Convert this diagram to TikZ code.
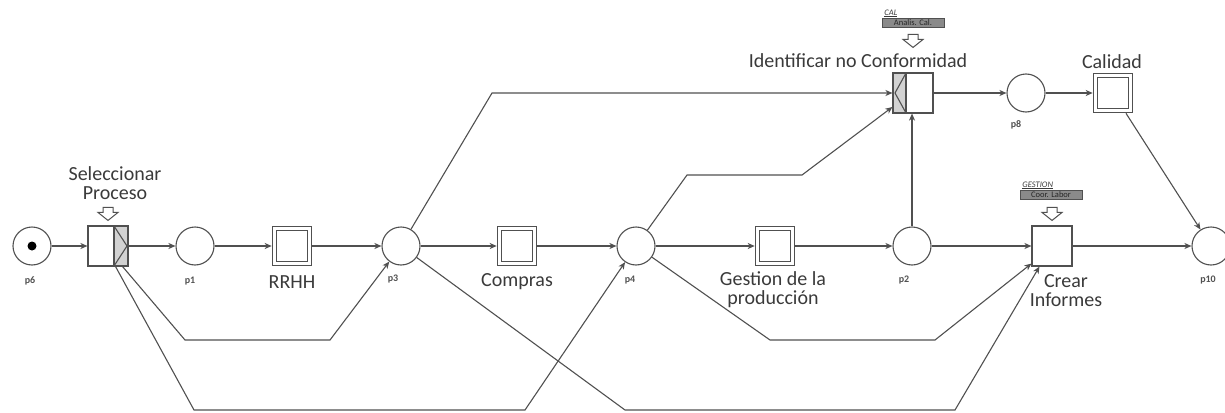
\documentclass[tikz,border=0pt]{standalone}
\usepackage{fontspec}
\setmainfont{Carlito}
\usetikzlibrary{arrows.meta}
\definecolor{netgray}{HTML}{505050}
\definecolor{textgray}{HTML}{3A3A3A}
\definecolor{fillgray}{HTML}{D2D2D2}
\definecolor{tabgray}{HTML}{8A8A8A}
\tikzset{every picture/.style={line width=1.1pt}}
\tikzset{
  place/.style={circle, draw=netgray, fill=white, minimum size=38pt,
                inner sep=0pt},
  token/.style={circle, fill=black, minimum size=9pt, inner sep=0pt},
  trans/.style={rectangle, draw=netgray, fill=white, minimum size=40pt,
                inner sep=0pt},
  dtrans/.style={rectangle, draw=netgray, double=white, double distance=3.5pt,
                 minimum size=35pt, inner sep=0pt, outer sep=2.8pt},
  flow/.style={draw=netgray, -{Stealth[length=7pt,width=6pt,inset=2pt]}},
  plabel/.style={font=\fontsize{10}{11}\selectfont\bfseries, text=netgray,
                 inner sep=0pt},
  tlabel/.style={font=\fontsize{20}{19}\selectfont, text=textgray,
                 align=center, inner sep=0pt},
  tab/.style={draw=netgray, fill=tabgray, line width=0.8pt,
              font=\fontsize{8.5}{9}\selectfont, text=black!85,
              minimum width=62pt, minimum height=9pt, inner sep=0.3pt},
  tabname/.style={font=\fontsize{8.5}{9}\selectfont\itshape, text=textgray,
                  inner sep=0.3pt},
  % shaded right part of the first transition
  selpart/.style={path picture={
      \fill[fillgray] ([xshift=-14pt]path picture bounding box.north east)
        rectangle (path picture bounding box.south east);
      \draw[netgray] ([xshift=-14pt]path picture bounding box.north east)
        -- ([xshift=-14pt]path picture bounding box.south east);
      \draw[netgray] ([xshift=-14pt]path picture bounding box.north east)
        -- ([xshift=-1pt]path picture bounding box.east)
        -- ([xshift=-14pt]path picture bounding box.south east);
  }},
  % shaded left part of the checking transition
  identpart/.style={path picture={
      \fill[fillgray] (path picture bounding box.north west)
        rectangle ([xshift=13pt]path picture bounding box.south west);
      \draw[netgray] ([xshift=13pt]path picture bounding box.north west)
        -- ([xshift=13pt]path picture bounding box.south west);
      \draw[netgray] ([xshift=13pt]path picture bounding box.north west)
        -- ([xshift=2pt]path picture bounding box.west)
        -- ([xshift=13pt]path picture bounding box.south west);
  }},
  pics/pointer/.style={code={
      \draw[netgray, fill=white, line width=1pt]
        (-5,-13) -- (5,-13) -- (5,-8) -- (10,-8) -- (0,0)
        -- (-10,-8) -- (-5,-8) -- cycle;
  }},
}

\begin{document}
\begin{tikzpicture}[x=1pt, y=-1pt]
  \useasboundingbox (0,0) rectangle (1225,412);
  % places
  \node[place] (p6) at (32,246) {};
  \node[token] (p6tok) at (p6) {};
  \node[place] (p1) at (195,246) {};
  \node[place] (p3) at (401,246) {};
  \node[place] (p4) at (636,246) {};
  \node[place] (p2) at (912,246) {};
  \node[place] (p10) at (1211,246) {};
  \node[place] (p8) at (1026,93) {};
  % transitions
  \node[trans, selpart] (sel) at (108,246) {};
  \node[dtrans] (rrhh) at (292,246) {};
  \node[dtrans] (compras) at (517,246) {};
  \node[dtrans] (gestion) at (775,246) {};
  \node[trans] (crear) at (1052,246) {};
  \node[trans, identpart] (ident) at (913,93) {};
  \node[dtrans] (calidad) at (1113,93) {};
  % place names
  \node[plabel] (p6l) at (30,281) {p6};
  \node[plabel] (p1l) at (190,281) {p1};
  \node[plabel] (p3l) at (393,279) {p3};
  \node[plabel] (p4l) at (630,280) {p4};
  \node[plabel] (p2l) at (904,280) {p2};
  \node[plabel] (p10l) at (1208,280) {p10};
  \node[plabel] (p8l) at (1016,125) {p8};
  % transition names
  \node[tlabel] (sell) at (115,183) {Seleccionar\\Proceso};
  \node[tlabel, anchor=base] (rrhhl) at (292,288) {RRHH};
  \node[tlabel, anchor=base] (comprasl) at (517,286) {Compras};
  \node[tlabel] (gestionl) at (773,290) {Gestion de la\\producción};
  \node[tlabel] (crearl) at (1066,291) {Crear\\Informes};
  \node[tlabel, anchor=base] (identl) at (858,67) {Identificar no Conformidad};
  \node[tlabel, anchor=base] (calidadl) at (1112,69) {Calidad};
  % roles
  \node[tab] (caltab) at (913,23) {Analis. Cal.};
  \node[tabname, anchor=south west] (calname) at ([xshift=2pt]caltab.north west) {\underline{CAL}};
  \node[tab] (gestab) at (1051,195) {Coor. Labor};
  \node[tabname, anchor=south west] (gesname) at ([xshift=2pt]gestab.north west) {\underline{GESTION}};
  \pic at ([yshift=5pt]sel.north) {pointer};
  \pic at ([yshift=25pt]ident.north) {pointer};
  \pic at ([yshift=5pt]crear.north) {pointer};
  % main row
  \draw[flow] (p6) -- (sel);
  \draw[flow] (sel) -- (p1);
  \draw[flow] (p1) -- (rrhh);
  \draw[flow] (rrhh) -- (p3);
  \draw[flow] (p3) -- (compras);
  \draw[flow] (compras) -- (p4);
  \draw[flow] (p4) -- (gestion);
  \draw[flow] (gestion) -- (p2);
  \draw[flow] (p2) -- (crear);
  \draw[flow] (crear) -- (p10);
  % upper row
  \draw[flow] (ident) -- (p8);
  \draw[flow] (p8) -- (calidad);
  \draw[flow] (calidad) -- (p10);
  \draw[flow] (p2) -- (p2 |- ident.south);
  \draw[flow] (p3) -- (492,93) -- (ident.west);
  \draw[flow] (p4) -- (687,175) -- (802,175) -- ([yshift=-14pt]ident.west);
  % lower arcs
  \draw[flow] ([xshift=-6pt]sel.south east) -- (185,340) -- (330,340) -- (p3);
  \draw[flow] ([xshift=-13pt]sel.south east) -- (194,410) -- (525,410) -- (p4);
  \draw[flow] (p3) -- (625,410) -- (955,410) -- ([xshift=8pt]crear.south west);
  \draw[flow] (p4) -- (770,340) -- (935,340) -- ([yshift=3pt]crear.south west);
\end{tikzpicture}
\end{document}
